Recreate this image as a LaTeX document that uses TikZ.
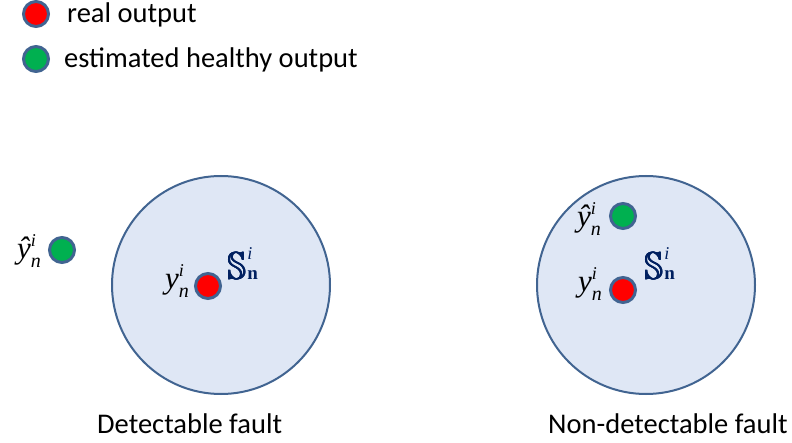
\documentclass[tikz,border=0pt]{standalone}
\usepackage{fontspec}
\usepackage{amssymb}
\usepackage{graphicx}
\setmainfont{Carlito}
\newfontfamily\tms{Liberation Serif}
\definecolor{ringc}{RGB}{65,100,145}
\definecolor{fillc}{RGB}{223,231,245}
\definecolor{dotred}{RGB}{255,0,0}
\definecolor{dotgreen}{RGB}{0,176,80}
\definecolor{navy}{RGB}{0,32,96}
\newcommand{\yl}[1]{{\tms\itshape\fontsize{31}{31}\selectfont #1}\makebox[0pt][l]{\raisebox{12pt}{\tms\itshape\fontsize{18}{18}\selectfont i}}\raisebox{-9pt}{\tms\itshape\fontsize{20}{20}\selectfont n}}
\newcommand{\bbS}{\rlap{$\mathbb{S}$}\kern0.1pt\rlap{$\mathbb{S}$}\kern0.1pt\rlap{$\mathbb{S}$}\kern0.1pt\rlap{$\mathbb{S}$}\kern0.1pt$\mathbb{S}$}
\newcommand{\setlabel}{{\color{navy}\scalebox{3.3}[3.9]{\bbS}\kern0.5pt\makebox[0pt][l]{\raisebox{20pt}{\tms\itshape\fontsize{18}{18}\selectfont i}}{\tms\bfseries\fontsize{19}{19}\selectfont n}}}
\begin{document}
\begin{tikzpicture}[x=1pt,y=-1pt,
  region/.style={circle,draw=ringc,line width=2pt,fill=fillc,minimum size=218pt,inner sep=0pt},
  reddot/.style={circle,draw=ringc,line width=3pt,fill=dotred,minimum size=25pt,inner sep=0pt},
  greendot/.style={circle,draw=ringc,line width=3pt,fill=dotgreen,minimum size=25pt,inner sep=0pt},
  txt/.style={font=\fontsize{28.5}{28.5}\selectfont,inner sep=0pt,anchor=base west},
  mlab/.style={inner sep=0pt,anchor=base east},
  slab/.style={inner sep=0pt,anchor=base west}]
\useasboundingbox (0,0) rectangle (792,443);
% legend
\node[reddot] (lr) at (36,14) {};
\node[txt] (lrt) at (67,23) {real output};
\node[greendot] (lg) at (36,59) {};
\node[txt] (lgt) at (64,68) {estimated healthy output};
% left
\node[region] (c1) at (221,285) {};
\node[reddot] (r1) at (208,286) {};
\node[greendot] (g1) at (62,250) {};
\node[mlab] (yh1) at (41,259) {\yl{ŷ}};
\node[mlab] (y1) at (189,289) {\yl{y}};
\node[slab] (s1) at (227,280) {\setlabel};
\node[txt] (l1) at (97,433) {Detectable fault};
% right
\node[region] (c2) at (646,285) {};
\node[greendot] (g2) at (623,216) {};
\node[reddot] (r2) at (623,290) {};
\node[mlab] (yh2) at (601,227) {\yl{ŷ}};
\node[mlab] (y2) at (602,292) {\yl{y}};
\node[slab] (s2) at (644,280) {\setlabel};
\node[txt] (l2) at (548,433) {Non-detectable fault};
\end{tikzpicture}
\end{document}
